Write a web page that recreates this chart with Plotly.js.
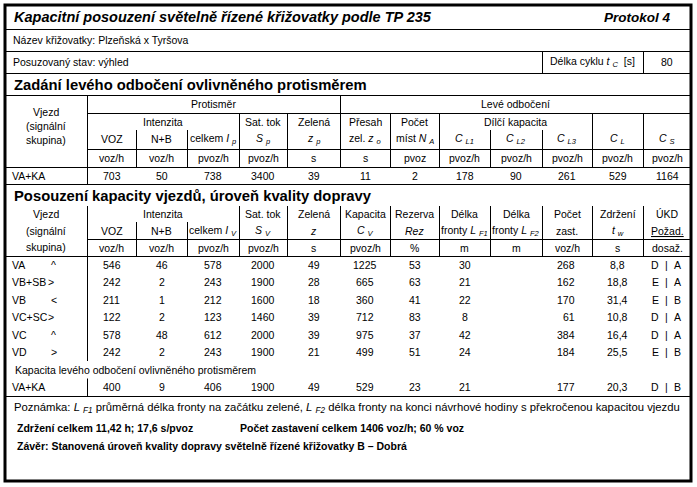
<!DOCTYPE html>
<html><head><meta charset="utf-8">
<script src="https://cdn.plot.ly/plotly-3.0.1.min.js"></script>
<style>html,body{margin:0;padding:0;background:#fff}</style>
</head><body><div id="chart" style="width:697px;height:487px"></div>
<script>
// ---------- texts ----------
const titleText = "Kapacitní posouzení světelně řízené křižovatky podle TP 235";
const protokolText = "Protokol 4";
const nazevText = "Název křižovatky: Plzeňská x Tyršova";
const stavText = "Posuzovaný stav: výhled";
const cyklusLabel = "Délka cyklu <i>t</i> <sub><i>C</i></sub>  [s]";
const cyklusValue = "80";
const section1 = "Zadání levého odbočení ovlivněného protisměrem";
const section2 = "Posouzení kapacity vjezdů, úroveň kvality dopravy";
const vjezdHead = ["Vjezd", "(signální", "skupina)"];

// ---------- table 1: left turn affected by opposing flow ----------
const t1Group = ["Protisměr", "Levé odbočení"];
const t1Head1 = ["Intenzita", "", "", "Sat. tok", "Zelená", "Přesah", "Počet", "Dílčí kapacita", "", "", "", ""];
const t1Head2 = ["VOZ", "N+B", "celkem <i>I</i> <sub><i>p</i></sub>", "<i>S</i> <sub><i>p</i></sub>", "<i>z</i> <sub><i>p</i></sub>",
  "zel. <i>z</i> <sub><i>o</i></sub>", "míst <i>N</i> <sub><i>A</i></sub>", "<i>C</i> <sub><i>L1</i></sub>", "<i>C</i> <sub><i>L2</i></sub>",
  "<i>C</i> <sub><i>L3</i></sub>", "<i>C</i> <sub><i>L</i></sub>", "<i>C</i> <sub><i>S</i></sub>"];
const t1Units = ["voz/h", "voz/h", "pvoz/h", "pvoz/h", "s", "s", "pvoz", "pvoz/h", "pvoz/h", "pvoz/h", "pvoz/h", "pvoz/h"];
const t1Vjezd = ["VA+KA"];
const t1Voz = [703];
const t1NB = [50];
const t1Celkem = [738];
const t1Sat = [3400];
const t1Zelena = [39];
const t1Presah = [11];
const t1Mist = [2];
const t1CL1 = [178];
const t1CL2 = [90];
const t1CL3 = [261];
const t1CL = [529];
const t1CS = [1164];

// ---------- table 2: capacity of entries ----------
const t2Head1 = ["Intenzita", "", "", "Sat. tok", "Zelená", "Kapacita", "Rezerva", "Délka", "Délka", "Počet", "Zdržení", "ÚKD"];
const t2Head2 = ["VOZ", "N+B", "celkem <i>I</i> <sub><i>V</i></sub>", "<i>S</i> <sub><i>V</i></sub>", "<i>z</i>", "<i>C</i> <sub><i>V</i></sub>",
  "<i>Rez</i>", "fronty <i>L</i> <sub><i>F1</i></sub>", "fronty <i>L</i> <sub><i>F2</i></sub>", "zast.", "<i>t</i> <sub><i>w</i></sub>", "<u>Požad.</u>"];
const t2Units = ["voz/h", "voz/h", "pvoz/h", "pvoz/h", "s", "pvoz/h", "%", "m", "m", "voz/h", "s", "dosaž."];
const vjezd = ["VA", "VB+SB", "VB", "VC+SC", "VC", "VD"];
const smer = ["^", ">", "<", ">", "^", ">"];
const voz = [546, 242, 211, 122, 578, 242];
const nb = [46, 2, 1, 2, 48, 2];
const celkem = [578, 243, 212, 123, 612, 243];
const satTok = [2000, 1900, 1600, 1460, 2000, 1900];
const zelena = [49, 28, 18, 39, 39, 21];
const kapacita = [1225, 665, 360, 712, 975, 499];
const rezerva = [53, 63, 41, 83, 37, 51];
const frontaLF1 = [30, 21, 22, 8, 42, 24];
const frontaLF2 = ["", "", "", "", "", ""];
const pocetZast = [268, 162, 170, 61, 384, 184];
const zdrzeni = ["8,8", "18,8", "31,4", "10,8", "16,4", "25,5"];
const ukdPozad = ["D", "E", "E", "D", "D", "E"];
const ukdDosaz = ["A", "A", "B", "A", "A", "B"];

const ltLabel = "Kapacita levého odbočení ovlivněného protisměrem";
const ltVjezd = "VA+KA";
const ltValues = [400, 9, 406, 1900, 49, 529, 23, 21, "", 177, "20,3"];
const ltUkd = ["D", "B"];

const noteText = "Poznámka: <i>L</i> <sub><i>F1</i></sub> průměrná délka fronty na začátku zelené, <i>L</i> <sub><i>F2</i></sub> délka fronty na konci návrhové hodiny s překročenou kapacitou vjezdu";
const sumDelay = "Zdržení celkem 11,42 h; 17,6 s/pvoz";
const sumStops = "Počet zastavení celkem 1406 voz/h; 60 % voz";
const conclusion = "Závěr: Stanovená úroveň kvality dopravy světelně řízené křižovatky B – Dobrá";

// ---------- geometry ----------
const X = [5, 87, 136, 187, 239, 287, 340, 390, 439, 490, 542, 592, 643, 691];
const L = X[0], R = X[X.length - 1];
const FN = "Liberation Sans, Arial, sans-serif";
const BODY = 10.5;
const cx = i => (X[i] + X[i + 1]) / 2;

// subscripts as shifted, smaller spans
const subFix = s => String(s).replace(/<sub>(.*?)<\/sub>/g,
  '<span style="font-size:72%;baseline-shift:-28%">$1</span>');

const gridX = [], gridY = [];
const annotations = [];
function hl(y, x0, x1) { gridX.push(x0, x1, null); gridY.push(y + 0.5, y + 0.5, null); }
function vl(x, y0, y1) { gridX.push(x + 0.5, x + 0.5, null); gridY.push(y0, y1, null); }
function txt(x, y, t, o) {
  if (t === "" || t === null || t === undefined) return;
  o = o || {};
  annotations.push({xref: "x", yref: "y", x: x, y: y, text: subFix(t), showarrow: false,
    xanchor: o.anchor || "center", yanchor: "middle",
    font: {family: FN, size: o.size || BODY, color: "#000", weight: o.weight || "normal", style: o.style || "normal"}});
}

// top rows
hl(29, L, R); hl(51, L, R); hl(73, L, R);
vl(X[10], 51, 73); vl(X[12], 51, 73);
txt(12, 17, titleText, {anchor: "left", size: 14.5, weight: "bold", style: "italic"});
txt(673, 17, protokolText, {anchor: "right", size: 13.5, weight: "bold", style: "italic"});
txt(11, 40, nazevText, {anchor: "left"});
txt(11, 62, stavText, {anchor: "left"});
txt((X[10] + X[12]) / 2, 62, cyklusLabel);
txt(cx(12), 62, cyklusValue);

// ---------- table 1 ----------
const Y1 = {top: 95, g: 113, sub: 130, u: 149, d: 167, b: 184};
txt(12, 85, section1, {anchor: "left", size: 14.8, weight: "bold"});
hl(Y1.top, L, R); hl(Y1.g, X[1], R); hl(Y1.u, X[1], R); hl(Y1.d, L, R); hl(Y1.b, L, R);
vl(X[1], Y1.top, Y1.b); vl(X[6], Y1.top, Y1.d);
[2, 3, 9, 10].forEach(i => vl(X[i], Y1.sub, Y1.d));
[4, 5, 7, 8, 11, 12].forEach(i => vl(X[i], Y1.g, Y1.d));
vjezdHead.forEach((t, k) => txt(cx(0), 112 + 14 * k, t));
txt((X[1] + X[6]) / 2, 104, t1Group[0]);
txt((X[6] + R) / 2, 104, t1Group[1]);
t1Head1.forEach((t, k) => {
  if (!t) return;
  let xc = cx(k + 1);
  if (t === "Intenzita") xc = (X[1] + X[4]) / 2;
  if (t === "Dílčí kapacita") xc = (X[8] + X[11]) / 2;
  txt(xc, 122, t);
});
t1Head2.forEach((t, k) => txt(cx(k + 1), 139, t));
t1Units.forEach((t, k) => txt(cx(k + 1), 158, t));
const t1Cols = [t1Voz, t1NB, t1Celkem, t1Sat, t1Zelena, t1Presah, t1Mist, t1CL1, t1CL2, t1CL3, t1CL, t1CS];
t1Vjezd.forEach((v, r) => {
  const y = 176 + 17 * r;
  txt(10, y, v, {anchor: "left"});
  t1Cols.forEach((col, k) => txt(cx(k + 1), y, col[r]));
});

// ---------- table 2 ----------
const Y2 = {top: 206, sub: 222, u: 239, d: 256, row: 17.5, b: 396};
txt(12, 196, section2, {anchor: "left", size: 14.8, weight: "bold"});
hl(Y2.u, X[1], R); hl(Y2.d, L, R); hl(Y2.b, L, R);
[2, 3].forEach(i => vl(X[i], Y2.sub, Y2.d));
for (let i = 4; i <= 12; i++) vl(X[i], Y2.top, Y2.d);
const ltLabelRow = vjezd.length, ltRow = vjezd.length + 1;
vl(X[1], Y2.top, Y2.d + Y2.row * ltLabelRow);
vl(X[1], Y2.d + Y2.row * ltRow, Y2.b);
vjezdHead.forEach((t, k) => txt(cx(0), 214 + 16.5 * k, t));
t2Head1.forEach((t, k) => {
  if (!t) return;
  let xc = cx(k + 1);
  if (t === "Intenzita") xc = (X[1] + X[4]) / 2;
  txt(xc, 214, t);
});
t2Head2.forEach((t, k) => txt(cx(k + 1), 230.5, t));
t2Units.forEach((t, k) => txt(cx(k + 1), 247.5, t));

const rowY = r => Y2.d + Y2.row * (r + 0.5);
function dataRow(y, vals, pozad, dosaz) {
  vals.forEach((v, k) => {
    if (k === 9) txt(577, y, v, {anchor: "right"});
    else txt(cx(k + 1), y, v);
  });
  txt(655, y, pozad); txt(666, y, "|"); txt(677, y, dosaz);
}
vjezd.forEach((v, r) => {
  const y = rowY(r);
  txt(10, y, v, {anchor: "left"});
  txt(v.length > 3 ? 46 : 49, y, smer[r], {anchor: "left"});
  dataRow(y, [voz[r], nb[r], celkem[r], satTok[r], zelena[r], kapacita[r], rezerva[r], frontaLF1[r], frontaLF2[r], pocetZast[r], zdrzeni[r]], ukdPozad[r], ukdDosaz[r]);
});
txt(13, rowY(ltLabelRow), ltLabel, {anchor: "left"});
txt(10, rowY(ltRow), ltVjezd, {anchor: "left"});
dataRow(rowY(ltRow), ltValues, ltUkd[0], ltUkd[1]);

// ---------- bottom notes ----------
txt(12, 408, noteText, {anchor: "left", size: 11.3});
txt(15, 428, sumDelay, {anchor: "left", size: 10.5, weight: "bold"});
txt(238, 428, sumStops, {anchor: "left", size: 10.5, weight: "bold"});
txt(15, 446, conclusion, {anchor: "left", size: 10.5, weight: "bold"});

const gridTrace = {
  type: "scatter", mode: "lines", x: gridX, y: gridY,
  line: {color: "#000", width: 1}, hoverinfo: "skip", showlegend: false, connectgaps: false
};

const layout = {
  width: 697, height: 487,
  margin: {l: 0, r: 0, t: 0, b: 0},
  paper_bgcolor: "#fff", plot_bgcolor: "#fff",
  showlegend: false,
  xaxis: {range: [0, 697], visible: false, fixedrange: true},
  yaxis: {range: [487, 0], visible: false, fixedrange: true},
  shapes: [{type: "rect", xref: "x", yref: "y", x0: L, x1: R, y0: 5, y1: 481, line: {color: "#000", width: 3}}],
  annotations: annotations
};
Plotly.newPlot("chart", [gridTrace], layout, {staticPlot: true, displayModeBar: false});
</script>
</body></html>
